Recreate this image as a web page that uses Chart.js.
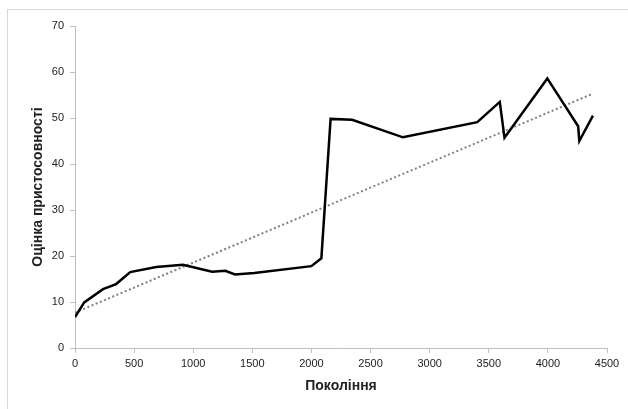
<!DOCTYPE html>
<html>
<head>
<meta charset="utf-8">
<script src="https://cdn.jsdelivr.net/npm/chart.js@4/dist/chart.umd.min.js"></script>
<style>
  html, body { margin: 0; padding: 0; background: #fff; }
  #wrap { position: relative; width: 628px; height: 409px; overflow: hidden; }
  #frame { position: absolute; left: 7px; top: 9px; width: 700px; height: 500px;
           border-left: 1px solid #d9d9d9; border-top: 1px solid #d9d9d9; }
  canvas { position: absolute; left: 0; top: 0; }
</style>
</head>
<body>
<div id="wrap">
  <div id="frame"></div>
  <canvas id="fitness" width="628" height="409"></canvas>
</div>
<script>
// generations and fitness score
const generations = [0, 78, 237, 348, 467, 687, 913, 1160, 1272, 1353, 1516, 1999, 2084,
                     2162, 2344, 2774, 3403, 3593, 3633, 3995, 4256, 4266, 4381];
const fitness = [6.7, 9.9, 12.8, 13.9, 16.5, 17.6, 18.1, 16.6, 16.8, 16.0, 16.3, 17.8, 19.5,
                 49.8, 49.6, 45.8, 49.1, 53.5, 45.7, 58.6, 48.2, 45.0, 50.5];
// linear trend ends
const trendX = [0, 4381];
const trendY = [7.7, 55.3];

const xTitle = "Покоління";
const yTitle = "Оцінка пристосовності";

const toPoints = (xs, ys) => xs.map((x, i) => ({x: x, y: ys[i]}));

const tickFont = {family: "'Liberation Sans', Arial, sans-serif", size: 11};
const titleFont = {family: "'Liberation Sans', Arial, sans-serif", size: 14, weight: 'bold'};

const fitness_chart = new Chart(
    document.getElementById("fitness"),
    {
        type: 'scatter',
        data: {
            datasets: [
                {
                    label: "fitness",
                    data: toPoints(generations, fitness),
                    showLine: true,
                    borderColor: '#000',
                    borderWidth: 2.5,
                    pointRadius: 0,
                    tension: 0,
                    order: 1
                },
                {
                    label: "trend",
                    data: toPoints(trendX, trendY),
                    showLine: true,
                    borderColor: '#808080',
                    borderWidth: 2,
                    borderDash: [2, 2.5],
                    pointRadius: 0,
                    order: 2
                }
            ]
        },
        options: {
            responsive: false,
            animation: false,
            layout: {padding: {left: 30, right: 21, top: 26, bottom: 10}},
            plugins: {legend: {display: false}, tooltip: {enabled: false}},
            scales: {
                x: {
                    type: 'linear',
                    min: 0, max: 4500,
                    ticks: {stepSize: 500, color: '#222', font: tickFont, padding: 4, maxRotation: 0,
                            callback: (v) => String(v)},
                    grid: {drawOnChartArea: false, color: '#bfbfbf', tickLength: 5},
                    border: {color: '#bfbfbf'},
                    title: {display: true, text: xTitle, color: '#222', font: titleFont, padding: {top: 4}}
                },
                y: {
                    min: 0, max: 70,
                    ticks: {stepSize: 10, color: '#222', font: tickFont, padding: 6},
                    grid: {drawOnChartArea: false, color: '#bfbfbf', tickLength: 5},
                    border: {color: '#bfbfbf'},
                    title: {display: true, text: yTitle, color: '#222', font: titleFont, padding: 0},
                    afterFit: (scale) => { scale.width = 45; }
                }
            }
        }
    }
);
</script>
</body>
</html>
